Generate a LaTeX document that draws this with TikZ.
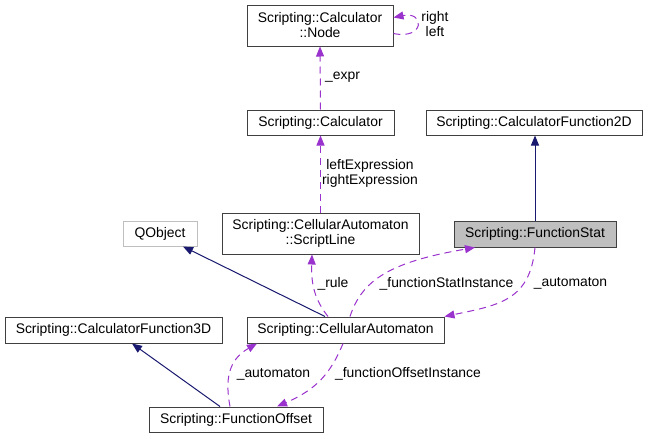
\documentclass[tikz,border=0pt]{standalone}
\usepackage{fontspec}
\setmainfont{Liberation Sans}
\usetikzlibrary{arrows.meta}
\definecolor{navyline}{HTML}{191970}
\definecolor{purpline}{HTML}{9A32CD}
\definecolor{boxgray}{HTML}{BFBFBF}
\begin{document}
\begin{tikzpicture}[x=1pt,y=-1pt,
  every node/.style={font=\fontsize{13.9pt}{15pt}\selectfont},
  cls/.style={draw=black!75, line width=1pt, fill=white, rectangle, inner sep=0pt, align=center},
  lbl/.style={inner sep=0pt, align=center},
  inh/.style={navyline, line width=1pt, -{Triangle[length=10pt,width=8pt]}},
  dep/.style={purpline, line width=1pt, dash pattern=on 7pt off 5pt, -{Triangle[length=10pt,width=8pt]}}]
\useasboundingbox[fill=white] (0,0) rectangle (649,439);
% classes
\node[cls, minimum width=146pt, minimum height=41pt] (nodeN) at (320,25.5) {Scripting::Calculator\\::Node};
\node[cls, minimum width=147pt, minimum height=25pt] (calc) at (320.5,122.5) {Scripting::Calculator};
\node[cls, minimum width=216pt, minimum height=25pt] (f2d) at (534,122.5) {Scripting::CalculatorFunction2D};
\node[cls, minimum width=162pt, minimum height=26pt, fill=boxgray] (fstat) at (535,234) {Scripting::FunctionStat};
\node[cls, minimum width=197pt, minimum height=41pt] (sline) at (320.5,233.5) {Scripting::CellularAutomaton\\::ScriptLine};
\node[cls, draw=boxgray, minimum width=74pt, minimum height=25pt] (qobj) at (160,233.5) {QObject};
\node[cls, minimum width=197pt, minimum height=26pt] (ca) at (345.5,330) {Scripting::CellularAutomaton};
\node[cls, minimum width=217pt, minimum height=26pt] (f3d) at (113.5,330) {Scripting::CalculatorFunction3D};
\node[cls, minimum width=174pt, minimum height=25pt] (foff) at (236,419.5) {Scripting::FunctionOffset};
% connectors
\draw[dep] (calc.north) -- (nodeN.south);
\draw[dep] (sline.north) -- (calc.south);
\draw[dep] ([yshift=-8pt]nodeN.east) .. controls (425,40) and (425,11) .. ([yshift=8pt]nodeN.east);
\draw[inh] (fstat.north) -- (fstat.north |- f2d.south);
\draw[inh] ([xshift=-20.5pt]ca.north) -- ([xshift=23pt]qobj.south);
\draw[dep] ([xshift=-17.5pt]ca.north) .. controls (315,300) and (311,285) .. ([xshift=-8.5pt]sline.south);
\draw[dep] ([xshift=4.5pt]ca.north) .. controls (362,280) and (390,262) .. ([xshift=-60pt]fstat.south);
\draw[dep] (fstat.south) .. controls (530,300) and (500,305) .. (ca.north east);
\draw[inh] ([xshift=-16pt]foff.north) -- ([xshift=18.5pt]f3d.south);
\draw[dep] ([xshift=-6pt]foff.north) .. controls (225,380) and (228,360) .. ([xshift=-88.5pt]ca.south);
\draw[dep] ([xshift=-2.5pt]ca.south) .. controls (330,375) and (315,390) .. ([xshift=41pt]foff.north);
% labels
\node[lbl] (lrl) at (435,24) {right\\left};
\node[lbl] (lexpr) at (342.5,77) {\_expr};
\node[lbl] (llr) at (370,173) {leftExpression\\rightExpression};
\node[lbl] (lrule) at (333,283.5) {\_rule};
\node[lbl] (lfsi) at (446.5,283.5) {\_functionStatInstance};
\node[lbl] (laut1) at (570.5,283.5) {\_automaton};
\node[lbl] (laut2) at (273.5,374) {\_automaton};
\node[lbl] (lfoi) at (408,374) {\_functionOffsetInstance};
\end{tikzpicture}
\end{document}
